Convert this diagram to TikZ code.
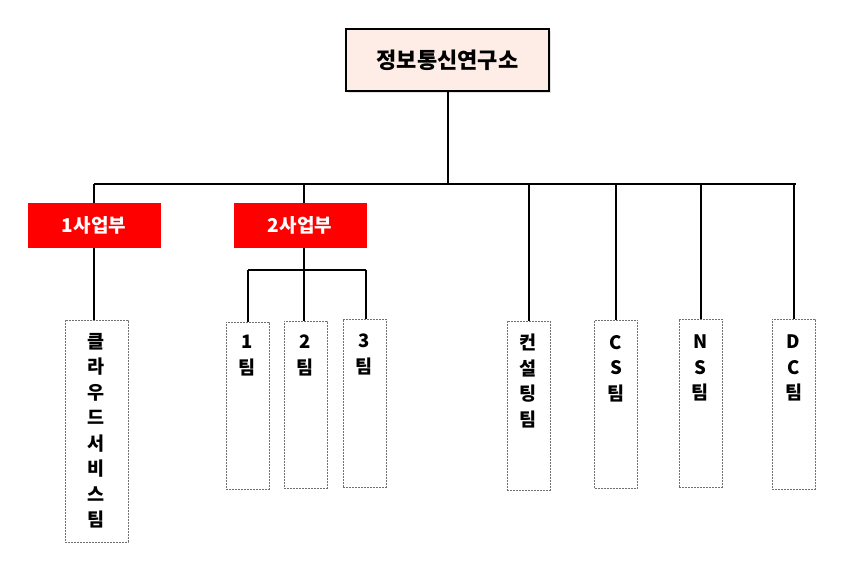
\documentclass[tikz,border=0pt]{standalone}
\usepackage{fontspec}
\setmainfont{Noto Sans CJK KR}
\usetikzlibrary{shadows}
\definecolor{toppink}{HTML}{FDEDE6}
\definecolor{divred}{HTML}{FF0000}
\definecolor{dashgray}{HTML}{707070}
\tikzset{
  topbox/.style={draw=black, line width=2.4pt, fill=toppink, minimum width=203pt, minimum height=62pt, inner sep=0pt,
    font=\fontsize{22}{26}\selectfont\bfseries,
    drop shadow={opacity=0.25, shadow xshift=2pt, shadow yshift=-2pt}},
  divbox/.style={fill=divred, text=white, minimum width=133pt, minimum height=45pt, inner sep=0pt,
    font=\fontsize{19}{22}\selectfont\bfseries},
  teambox/.style={draw=dashgray, dashed, dash pattern=on 2pt off 1pt, line width=0.8pt, minimum width=43pt, inner sep=0pt},
  teamtext/.style={anchor=north, inner sep=0pt, align=center, font=\fontsize{18.5}{25.5}\selectfont\bfseries},
  conn/.style={draw=black, line width=2pt}
}
\begin{document}
\begin{tikzpicture}[x=1pt, y=-1pt]
\useasboundingbox (0,0) rectangle (843,560);
% top
\node[topbox] (top) at (447.5,60) {정보통신연구소};
% bus
\coordinate (busL) at (94,184);
\coordinate (busR) at (796,184);
% divisions
\node[divbox] (d1) at (94,225.5) {1사업부};
\node[divbox] (d2) at (300,225.5) {2사업부};
% team boxes
\node[teambox, minimum width=63pt, minimum height=222pt] (cloud) at (96.5,431) {};
\node[teambox, minimum height=167pt] (t1) at (247.5,405.5) {};
\node[teambox, minimum height=167pt] (t2) at (305.5,404.5) {};
\node[teambox, minimum height=168pt] (t3) at (364.5,403) {};
\node[teambox, minimum height=169pt] (cons) at (528.5,405.5) {};
\node[teambox, minimum height=168pt] (cs) at (616,404) {};
\node[teambox, minimum height=168pt] (ns) at (700.5,403) {};
\node[teambox, minimum height=170pt] (dc) at (793.5,404) {};
% texts
\node[teamtext] (cloudtx) at (96.5,333) {클\\라\\우\\드\\서\\비\\스\\팀};
\node[teamtext] (t1tx) at (247.5,335) {1\\팀};
\node[teamtext] (t2tx) at (305.5,335) {2\\팀};
\node[teamtext] (t3tx) at (364.5,334) {3\\팀};
\node[teamtext] (constx) at (528.5,334) {컨\\설\\팅\\팀};
\node[teamtext] (cstx) at (616,335) {C\\S\\팀};
\node[teamtext] (nstx) at (700.5,335) {N\\S\\팀};
\node[teamtext] (dctx) at (793.5,335) {D\\C\\팀};
% connectors
\draw[conn] (top.south) -- (top.south |- busL);
\draw[conn] (busL) -- (busR);
\draw[conn] (busL) -- (d1.north);
\draw[conn] (d1.south) -- (d1.south |- cloud.north);
\coordinate (d2top) at (304,184);
\draw[conn] (d2top) -- (d2top |- d2.north);
\coordinate (sub) at (304,270);
\coordinate (subL) at (248,270);
\coordinate (subR) at (366,270);
\draw[conn] (d2top |- d2.south) -- (sub);
\draw[conn] (subL) -- (subR);
\draw[conn] (subL) -- (subL |- t1.north);
\draw[conn] (sub) -- (sub |- t2.north);
\draw[conn] (subR) -- (subR |- t3.north);
\draw[conn] (cons.north |- busL) -- (cons.north);
\draw[conn] (cs.north |- busL) -- (cs.north);
\draw[conn] (ns.north |- busL) -- (ns.north);
\draw[conn] (dc.north |- busR) -- (dc.north);
\end{tikzpicture}
\end{document}
